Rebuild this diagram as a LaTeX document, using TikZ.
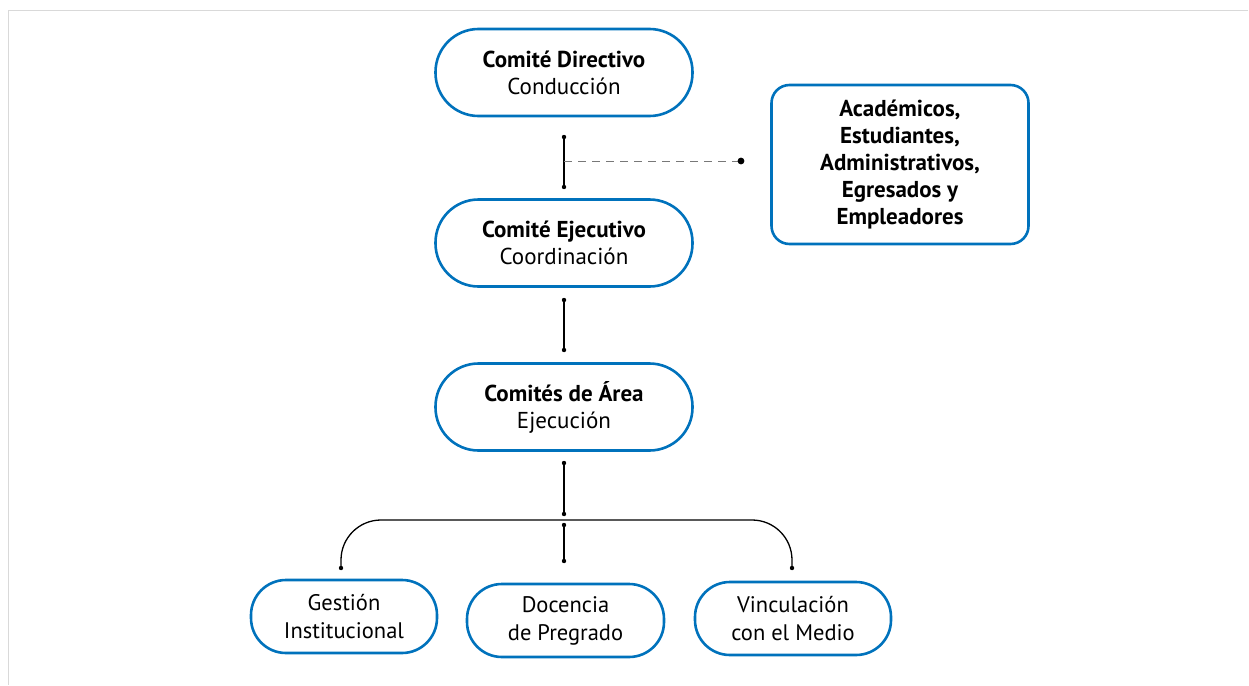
\documentclass[tikz,border=0pt]{standalone}
\usepackage{fontspec}
\setmainfont{PT Sans}
\usetikzlibrary{positioning}
\definecolor{ucblue}{RGB}{0,114,188}
\definecolor{linegray}{RGB}{120,120,120}
\definecolor{framegray}{RGB}{217,217,217}

\begin{document}
\begin{tikzpicture}[x=1pt,y=-1pt,
  comite/.style={draw=ucblue, line width=2.6pt, rounded corners=43pt, minimum width=257pt, minimum height=87pt, align=center, font=\fontsize{23}{27}\selectfont},
  unidad/.style={draw=ucblue, line width=2.6pt, rounded corners=35pt, minimum height=73pt, align=center, font=\fontsize{22.5}{28}\selectfont},
  grupos/.style={draw=ucblue, line width=2.6pt, rounded corners=18pt, minimum width=257pt, minimum height=159pt, align=center, font=\bfseries\fontsize{23}{27}\selectfont}]
\useasboundingbox (0,0) rectangle (1249,685);
% Frame
\draw[framegray, line width=1.5pt] (1248,10.5) -- (8.5,10.5) -- (8.5,685);
% Committees
\node[comite] (dir) at (564,72.5) {\textbf{Comité Directivo}\\Conducción};
\node[comite] (eje) at (564,243) {\textbf{Comité Ejecutivo}\\Coordinación};
\node[comite] (area) at (564,407) {\textbf{Comités de Área}\\Ejecución};
\node[grupos] (est) at (900,164.5) {Académicos,\\Estudiantes,\\Administrativos,\\Egresados y\\Empleadores};
% Areas
\node[unidad, minimum width=186pt] (gest) at (344,616.5) {Gestión\\Institucional};
\node[unidad, minimum width=197pt] (doc) at (565.5,620.5) {Docencia\\de Pregrado};
\node[unidad, minimum width=196pt] (vinc) at (793,618.5) {Vinculación\\con el Medio};
% Connector ends
\coordinate (d1) at (564,137); \coordinate (d2) at (564,187);
\coordinate (dm) at (564,161); \coordinate (de) at (741,161);
\coordinate (e1) at (564,300); \coordinate (e2) at (564,350);
\coordinate (a1) at (564,463); \coordinate (a2) at (564,514);
\coordinate (b1) at (564,525); \coordinate (b2) at (564,561);
\coordinate (bm) at (564,520);
\coordinate (gl) at (341,568); \coordinate (vr) at (792,568);
% Links
\draw[line width=1.3pt] (d1) -- (d2);
\draw[linegray, dashed, dash pattern=on 8pt off 6pt, line width=0.9pt] (dm) -- (de);
\draw[line width=1.3pt] (e1) -- (e2);
\draw[line width=1.3pt] (a1) -- (a2);
\draw[line width=1.3pt] (b1) -- (b2);
\draw[line width=1.3pt, rounded corners=40pt] (gl) |- (bm) -| (vr);
% Dots
\foreach \p in {d1,d2,e1,e2,a1,a2,b1,b2,gl,vr}
  \fill (\p) circle (2.2pt);
\fill (de) circle (3.4pt);
\end{tikzpicture}
\end{document}
